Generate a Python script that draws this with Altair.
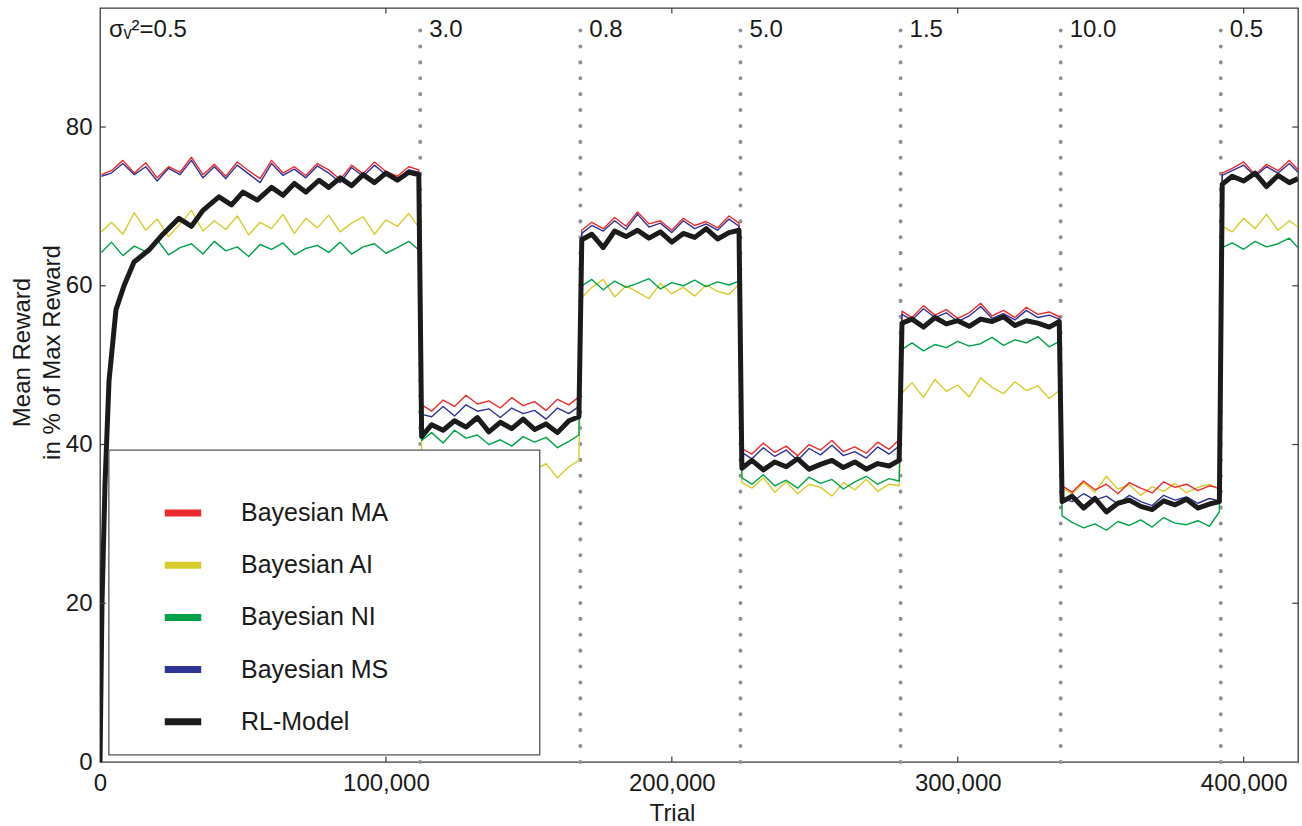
import altair as alt
import pandas as pd

FONT = "Liberation Sans"

SERIES = ["Bayesian MA", "Bayesian AI", "Bayesian NI", "Bayesian MS", "RL-Model"]
COLORS = ["#ec2a2e", "#d6cc2c", "#00a04b", "#2f3494", "#1b1b1b"]

# shared trial grid (segment by segment)
TRIAL = [
    500, 4000, 8000, 12000, 16000, 20000, 24000, 28000, 32000, 36000, 40000, 44000, 48000, 52000,
    56000, 60000, 64000, 68000, 72000, 76000, 80000, 84000, 88000, 92000, 96000, 100000, 104000,
    108000, 111500,
    112500, 116000, 120000, 124000, 128000, 132000, 136000, 140000, 144000, 148000, 152000, 156000,
    160000, 164000, 167500,
    168500, 172000, 176000, 180000, 184000, 188000, 192000, 196000, 200000, 204000, 208000, 212000,
    216000, 220000, 223500,
    224500, 228000, 232000, 236000, 240000, 244000, 248000, 252000, 256000, 260000, 264000, 268000,
    272000, 276000, 279500,
    280500, 284000, 288000, 292000, 296000, 300000, 304000, 308000, 312000, 316000, 320000, 324000,
    328000, 332000, 335500,
    336500, 340000, 344000, 348000, 352000, 356000, 360000, 364000, 368000, 372000, 376000, 380000,
    384000, 388000, 391500,
    392500, 396000, 400000, 404000, 408000, 412000, 416000, 419000,
]

MA = [
    74.0, 74.5, 75.8, 74.2, 75.5, 73.6, 75.0, 74.3, 76.2, 74.0, 75.3, 73.8, 75.6, 74.5, 73.5, 75.8,
    74.2, 75.0, 73.9, 75.4, 74.6, 73.4, 75.2, 74.1, 75.6, 74.4, 73.8, 75.0, 74.6,
    45.0, 44.2, 45.6, 44.8, 46.2, 45.1, 45.5, 44.6, 45.9, 44.9, 45.4, 44.3, 45.7, 45.0, 46.0,
    67.0, 68.0, 67.2, 68.6, 67.5, 69.3, 67.8, 68.2, 67.0, 68.5, 67.6, 68.1, 67.3, 68.8, 67.9,
    39.5, 38.8, 40.2, 39.0, 39.8, 38.6, 40.0, 39.3, 40.5, 39.1, 39.7, 38.9, 40.3, 39.4, 40.6,
    56.8, 56.0, 57.5, 56.3, 57.0, 55.9, 56.6, 57.8, 56.2, 56.9, 56.0, 57.3, 56.4, 56.7, 56.1,
    34.8, 34.0, 35.4, 34.3, 35.0, 33.8, 35.2, 34.5, 33.9, 35.3, 34.6, 35.0, 34.2, 34.8, 34.5,
    74.2, 74.8, 75.6, 74.0, 75.3, 74.5, 75.8, 74.6,
]
MS = [
    73.8, 74.2, 75.4, 74.0, 75.0, 73.2, 74.8, 74.0, 75.8, 73.6, 75.0, 73.5, 75.2, 74.1, 73.0, 75.4,
    73.9, 74.7, 73.6, 75.1, 74.2, 73.0, 74.9, 73.8, 75.2, 74.0, 73.4, 74.6, 74.3,
    43.8, 43.5, 44.8, 43.6, 45.0, 44.2, 44.5, 43.4, 44.6, 43.9, 44.3, 43.2, 44.6, 43.9, 44.8,
    66.6, 67.6, 66.9, 68.2, 67.1, 69.0, 67.4, 67.9, 66.7, 68.2, 67.2, 67.8, 67.0, 68.4, 67.5,
    39.0, 38.2, 39.6, 38.5, 39.3, 38.0, 39.5, 38.7, 39.9, 38.6, 39.1, 38.3, 39.7, 38.8, 39.8,
    56.4, 55.7, 57.1, 56.0, 56.6, 55.5, 56.2, 57.4, 55.9, 56.5, 55.7, 56.9, 56.0, 56.3, 55.8,
    33.2, 32.8, 33.8, 33.0, 33.5, 32.5, 33.6, 32.8, 32.3, 33.6, 33.0, 33.4, 32.6, 33.2, 32.9,
    73.9, 74.5, 75.2, 73.8, 75.0, 74.2, 75.4, 74.3,
]
AI = [
    66.8, 68.0, 66.5, 69.2, 67.0, 68.4, 66.2, 67.8, 69.5, 66.9, 68.2, 67.1, 68.8, 66.4, 68.0, 67.2,
    69.0, 66.6, 68.5, 67.3, 68.9, 66.8, 67.9, 68.7, 66.5, 68.3, 67.5, 69.1, 67.4,
    39.0, 38.5, 39.2, 38.3, 38.8, 38.0, 38.6, 37.8, 38.4, 37.5, 36.8, 37.6, 35.8, 37.2, 38.0,
    58.5, 59.8, 60.8, 58.6, 60.0, 59.2, 58.4, 60.3, 59.0, 59.8, 58.7, 60.1, 59.3, 58.9, 60.2,
    35.2, 34.5, 35.8, 34.0, 35.3, 33.8, 35.0, 34.6, 33.5, 35.2, 34.3, 35.6, 34.1, 35.0, 34.8,
    46.5, 47.8, 45.9, 48.2, 46.7, 47.5, 46.0, 48.4, 47.2, 46.4, 47.9, 46.8, 47.4, 45.8, 46.8,
    34.5, 33.8, 35.2, 34.0, 36.0, 34.4, 34.9, 33.6, 34.7, 34.1, 35.1, 33.9, 34.6, 35.0, 34.3,
    67.5, 66.8, 68.5, 67.2, 69.0, 67.0, 68.2, 67.4,
]
NI = [
    64.2, 65.5, 63.8, 65.0, 64.3, 65.8, 63.9, 64.8, 65.3, 64.0, 65.6, 64.4, 64.9, 63.7, 65.2, 64.6,
    65.4, 63.9, 64.7, 65.1, 64.2, 65.5, 64.0, 64.9, 65.3, 64.1, 64.8, 65.6, 64.5,
    40.5, 41.5, 40.2, 41.8, 40.8, 41.2, 40.0, 40.6, 39.8, 41.0, 40.3, 40.9, 39.6, 40.4, 41.2,
    60.0, 60.8, 59.5, 60.6, 59.8, 60.3, 60.9, 59.6, 60.4, 60.0, 60.7, 59.9, 60.5, 60.1, 60.6,
    35.8, 35.0, 36.2, 34.8, 35.5, 34.5, 35.9, 35.1, 35.6, 34.4, 35.3, 36.0, 35.0, 35.7, 35.4,
    52.0, 52.8, 51.8, 52.6, 52.2, 53.0, 52.4, 52.7, 53.5, 52.5, 53.2, 52.8, 53.6, 52.3, 53.0,
    31.0, 30.2, 29.5, 30.0, 29.2, 30.3, 29.8, 30.5, 29.6, 30.8, 30.1, 29.9, 30.4, 29.7, 31.5,
    64.8, 65.4, 64.6, 65.6, 64.9, 65.3, 66.0, 64.8,
]

# RL-Model: its own sampling in the first block (learning curve), shared grid afterwards
RL_TRIAL_START = [
    0, 700, 1750, 3150, 5600, 8400, 11900, 17100, 22000, 27600, 32000, 36000, 41600, 46000, 50000,
    55000, 60000, 64000, 68000, 72000, 76600, 80000, 84000, 88000, 92000, 96000, 100000, 104000,
    108000, 111500,
]
RL_START = [
    0, 20, 35, 48, 57, 60, 63, 64.5, 66.5, 68.5, 67.5, 69.5, 71.2, 70.2, 71.8, 70.8, 72.4, 71.4, 72.9,
    71.8, 73.3, 72.4, 73.6, 72.6, 74, 73.0, 74.2, 73.3, 74.3, 74.0,
]
RL_REST = [
    41.0, 42.5, 41.8, 43.0, 42.2, 43.4, 41.6, 42.8, 42.0, 43.2, 41.9, 42.6, 41.5, 43.0, 43.5,
    65.8, 66.5, 64.8, 66.9, 66.2, 67.0, 66.0, 66.8, 65.5, 66.6, 66.1, 67.2, 65.9, 66.7, 67.0,
    37.0, 38.0, 36.8, 37.8, 37.2, 38.2, 36.9, 37.5, 38.0, 37.1, 37.8, 36.9, 37.6, 37.3, 38.0,
    55.3, 55.8, 54.8, 56.0, 55.2, 55.6, 54.9, 55.8, 55.5, 56.1, 55.0, 55.6, 55.3, 54.8, 55.5,
    32.8, 33.5, 32.0, 33.2, 31.5, 32.6, 33.0, 32.2, 31.8, 32.9, 32.4, 33.1, 32.0, 32.5, 32.8,
    72.8, 73.8, 73.2, 74.2, 72.5, 73.9, 73.0, 73.5,
]

BOUNDARIES = [112000, 168000, 224000, 280000, 336000, 392000]
LABEL_X = [0, 112000, 168000, 224000, 280000, 336000, 392000]
LABELS = ["σᵥ²=0.5", "3.0", "0.8", "5.0", "1.5", "10.0", "0.5"]

X_TICKS = [0, 100000, 200000, 300000, 400000]
Y_TICKS = [0, 20, 40, 60, 80]

X_MAX = 419000
Y_MAX = 95

# ---- tables ----
rows = []
for name, vals in [("Bayesian MA", MA), ("Bayesian MS", MS), ("Bayesian AI", AI), ("Bayesian NI", NI)]:
    for t, v in zip(TRIAL, vals):
        rows.append({"series": name, "trial": t, "reward": v})
rl_shared = TRIAL[29:]
for t, v in zip(RL_TRIAL_START + rl_shared, RL_START + RL_REST):
    rows.append({"series": "RL-Model", "trial": t, "reward": v})
df = pd.DataFrame(rows)

bounds_df = pd.DataFrame({"x": BOUNDARIES, "y0": [0] * len(BOUNDARIES), "y1": [Y_MAX - 1.5] * len(BOUNDARIES)})
labels_df = pd.DataFrame({"x": LABEL_X, "label": LABELS, "y": [92.2] * len(LABELS)})

inner_ticks = []
for t in X_TICKS[1:]:
    inner_ticks.append({"x": t, "x2": t, "y": 0, "y2": 0.7})
    inner_ticks.append({"x": t, "x2": t, "y": Y_MAX - 0.7, "y2": Y_MAX})
for t in Y_TICKS[1:]:
    inner_ticks.append({"x": 0, "x2": 2000, "y": t, "y2": t})
    inner_ticks.append({"x": X_MAX - 2000, "x2": X_MAX, "y": t, "y2": t})
ticks_df = pd.DataFrame(inner_ticks)

legend_box = pd.DataFrame({"x": [3100], "x2": [153800], "y": [0.9], "y2": [39.3]})

xscale = alt.Scale(domain=[0, X_MAX], nice=False, zero=False)
yscale = alt.Scale(domain=[0, Y_MAX], nice=False, zero=False)
cscale = alt.Scale(domain=SERIES, range=COLORS)

xaxis = alt.Axis(
    values=X_TICKS, labelExpr="format(datum.value, ',')", grid=False, domain=False, tickSize=0,
    labelFlush=False, labelFontSize=24, labelPadding=9, labelFont=FONT, labelColor="#1a1a1a",
    title="Trial", titleFont=FONT, titleFontSize=24, titleFontWeight="normal",
    titleColor="#1a1a1a", titleX=572, titleY=58, titleBaseline="alphabetic",
)
yaxis = alt.Axis(
    values=Y_TICKS, labelExpr="format(datum.value, 'd')", grid=False, domain=False, tickSize=0,
    labelFlush=False, labelFontSize=24, labelPadding=8, labelFont=FONT, labelColor="#1a1a1a",
    title=["Mean Reward", "in % of Max Reward"], titleFont=FONT, titleFontSize=24,
    titleFontWeight="normal", titleColor="#1a1a1a", titleX=-90, titleY=344,
    titleBaseline="top", titleLineHeight=30, titleAlign="center",
)

legend = alt.Legend(
    title=None, orient="none", legendX=61, legendY=483,
    symbolType="stroke", symbolStrokeWidth=7, symbolSize=1330,
    labelFontSize=25, labelFont=FONT, labelColor="#1a1a1a", labelOffset=36,
    rowPadding=16.2, padding=0, symbolOpacity=1,
)

X = lambda f: alt.X(f, scale=xscale, axis=xaxis)
Y = lambda f: alt.Y(f, scale=yscale, axis=yaxis)

rules = alt.Chart(bounds_df).mark_rule(
    color="#8d939b", strokeWidth=4, strokeDash=[0.1, 15.8], strokeCap="round"
).encode(x=X("x:Q"), y=Y("y0:Q"), y2="y1:Q")


def series_layer(name, width):
    return alt.Chart(df).transform_filter(alt.datum.series == name).mark_line(
        strokeWidth=width, strokeJoin="round", clip=True
    ).encode(
        x=X("trial:Q"),
        y=Y("reward:Q"),
        color=alt.Color("series:N", scale=cscale, legend=legend),
        order="trial:Q",
    )


layers = [
    series_layer("Bayesian AI", 1.4),
    series_layer("Bayesian NI", 1.4),
    series_layer("Bayesian MA", 1.4),
    series_layer("Bayesian MS", 1.4),
    series_layer("RL-Model", 5),
]

ticks = alt.Chart(ticks_df).mark_rule(color="#3a3a3a", strokeWidth=1.2).encode(
    x=X("x:Q"), x2="x2:Q", y=Y("y:Q"), y2="y2:Q",
)

box = alt.Chart(legend_box).mark_rect(fill="white", stroke="#555555", strokeWidth=1.3).encode(
    x=X("x:Q"), x2="x2:Q", y=Y("y:Q"), y2="y2:Q",
)

texts = alt.Chart(labels_df).mark_text(
    align="left", baseline="middle", dx=9, fontSize=24, font=FONT, color="#1a1a1a"
).encode(x=X("x:Q"), y=Y("y:Q"), text="label:N")

chart = alt.layer(rules, *layers, ticks, box, texts).properties(
    width=1198, height=754,
    autosize=alt.AutoSizeParams(type="none"),
    padding={"left": 100, "top": 8, "right": 4, "bottom": 64},
    background="white",
).configure_view(stroke="#3a3a3a", strokeWidth=1.3)

chart.save("out.html", embed_options={"renderer": "svg", "actions": False})
